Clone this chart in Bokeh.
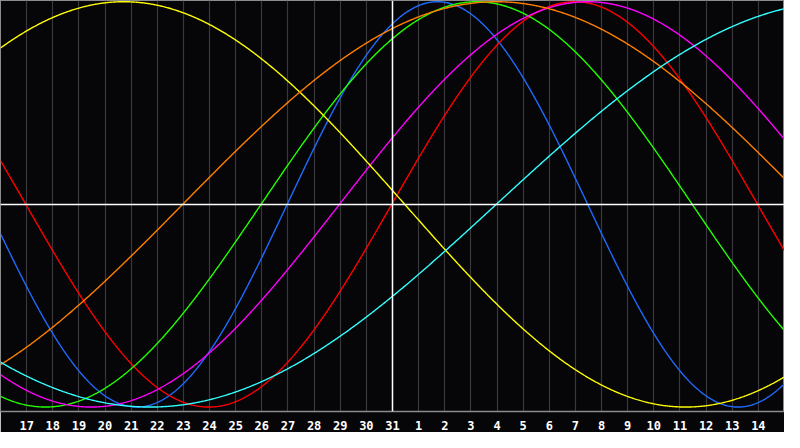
import numpy as np
from bokeh.plotting import figure
from bokeh.models import Range1d, FixedTicker, Span
from bokeh.embed import file_html
from bokeh.resources import INLINE

# ---- data ----
day_labels = [16, 17, 18, 19, 20, 21, 22, 23, 24, 25, 26, 27, 28, 29, 30, 31,
              1, 2, 3, 4, 5, 6, 7, 8, 9, 10, 11, 12, 13, 14, 15]
cycle_names = ["physical", "emotional", "intellectual", "intuitive",
               "aesthetic", "awareness", "spiritual"]
cycle_periods = [23, 28, 33, 38, 43, 48, 53]
# day index (from left edge) at which each cycle crosses zero going up
cycle_zero_up = [10.97, 14.97, 9.97, 12.97, 36.97, 6.97, 18.97]
cycle_colors = ["#1f6bff", "#ff0000", "#22ff00", "#ff00ff",
                "#ffff00", "#ff7f00", "#33ffff"]
today_index = 15

n_days = len(day_labels) - 1

p = figure(width=784, height=432, output_backend="svg", toolbar_location=None,
           x_range=Range1d(0, n_days), y_range=Range1d(-1.022, 1.006),
           background_fill_color="#060508", border_fill_color="#060508",
           min_border_left=0, min_border_right=0, min_border_top=0,
           min_border_bottom=0)
p.outline_line_color = "#8c8c8c"
p.outline_line_width = 1

p.yaxis.visible = False
p.ygrid.visible = False

ticks = list(range(1, n_days))
p.xaxis.ticker = FixedTicker(ticks=ticks)
p.xaxis.major_label_overrides = {i: str(day_labels[i]) for i in ticks}
p.xaxis.major_tick_line_color = None
p.xaxis.minor_tick_line_color = None
p.xaxis.axis_line_color = "#8c8c8c"
p.xaxis.axis_line_width = 1.5
p.xaxis.major_label_text_color = "#ffffff"
p.xaxis.major_label_text_font = "DejaVu Sans Mono"
p.xaxis.major_label_text_font_style = "bold"
p.xaxis.major_label_text_font_size = "12px"
p.xaxis.major_label_standoff = 3

p.xgrid.ticker = FixedTicker(ticks=ticks)
p.xgrid.grid_line_color = "#38383c"
p.xgrid.grid_line_width = 1.2

p.add_layout(Span(location=today_index, dimension="height",
                  line_color="#ffffff", line_width=1.5))
p.add_layout(Span(location=0, dimension="width",
                  line_color="#ffffff", line_width=1.5))

t = np.linspace(0, n_days, 901)
for per, z, col in zip(cycle_periods, cycle_zero_up, cycle_colors):
    y = np.sin(2 * np.pi * (t - z) / per)
    p.line(t, y, line_color=col, line_width=1.4)

open("out.html", "w").write(file_html(p, INLINE))
